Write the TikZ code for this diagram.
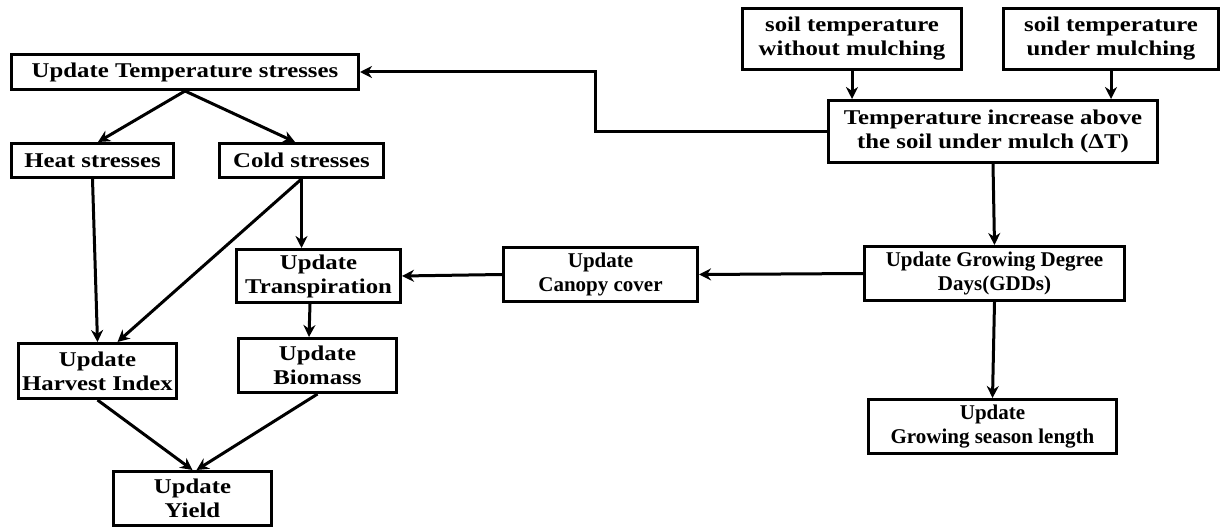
\documentclass[tikz,border=0pt]{standalone}
\usepackage{fontspec}
\setmainfont{Liberation Serif}
\newfontfamily\wideserif[FakeStretch=1.18]{Liberation Serif}
\usetikzlibrary{arrows.meta}

\begin{document}
\begin{tikzpicture}[x=0.5pt, y=-0.5pt, line width=1.5pt, >={Stealth[length=6pt,width=6pt]},
    box/.style={draw, line width=1.6pt, align=center, inner sep=0pt, font=\wideserif\bfseries\fontsize{10.5}{12}\selectfont},
    narrow box/.style={box, font=\bfseries\fontsize{10.5}{12}\selectfont}]
        \useasboundingbox (0,0) rectangle (1221,529);

          \node[box, minimum width=173.4pt, minimum height=17.4pt] (1) at (185,72) {Update Temperature stresses};
          \node[box, minimum width=80.9pt, minimum height=16.9pt] (2) at (92.5,160.5) {Heat stresses};
          \node[box, minimum width=81.9pt, minimum height=16.9pt] (3) at (301.5,160.5) {Cold stresses};
          \node[box, minimum width=81.9pt, minimum height=26.4pt] (4) at (318.5,276) {Update\\Transpiration};
          \node[box, minimum width=78.9pt, minimum height=26.9pt] (5) at (317.5,365.5) {Update\\Biomass};
          \node[box, minimum width=78.9pt, minimum height=27.4pt] (6) at (97.5,371) {Update\\Harvest Index};
          \node[box, minimum width=78.9pt, minimum height=26.9pt] (7) at (192.5,498.5) {Update\\Yield};
          \node[narrow box, minimum width=96.9pt, minimum height=26.9pt] (8) at (600.5,274.5) {Update\\Canopy cover};
          \node[narrow box, minimum width=129.9pt, minimum height=26.9pt] (9) at (994.5,273.5) {Update Growing Degree\\Days(GDDs)};
          \node[narrow box, minimum width=123.9pt, minimum height=26.9pt] (10) at (992.5,426.5) {Update\\Growing season length};
          \node[box, minimum width=164.4pt, minimum height=30.9pt] (11) at (993,131.5) {Temperature increase above\\the soil under mulch (ΔT)};
          \node[box, minimum width=109.4pt, minimum height=30.4pt] (12) at (852,39) {soil temperature\\without mulching};
          \node[box, minimum width=107.4pt, minimum height=30.4pt] (13) at (1111,39) {soil temperature\\under mulching};
          \coordinate (c) at (595,131.5);

          \path[->]
            (1.south) edge ([xshift=2.75pt]2.north)
                      edge ([xshift=-3.25pt]3.north)
            (2.south) edge (6.north)
            (3.south) edge ([xshift=10pt]6.north)
                      edge (3.south |- 4.north)
            ([xshift=-4.25pt]4.south) edge ([xshift=-4.25pt]5.north)
            (6.south) edge (7.north)
            (5.south) edge ([xshift=2pt]7.north)
            (8.west) edge (4.east)
            (9.west) edge (8.east)
            (9.south) edge (10.north)
            (11.south) edge (9.north)
            (12.south) edge (12.south |- 11.north)
            (13.south) edge (13.south |- 11.north);
          \draw[->] (11.west) -- (c) |- (1.east);

        \end{tikzpicture}
\end{document}
